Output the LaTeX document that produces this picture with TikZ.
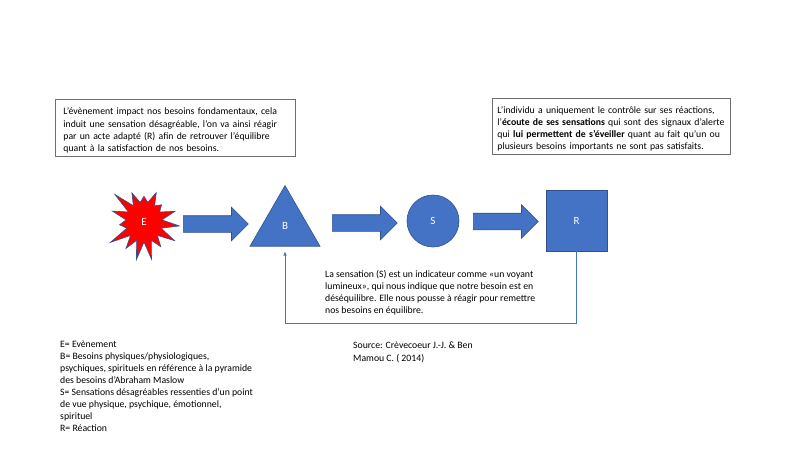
\documentclass[tikz,border=0pt]{standalone}
\usepackage{fontspec}
\setmainfont{Carlito}
\usetikzlibrary{shapes.symbols,shapes.geometric,shapes.arrows,arrows.meta}
\definecolor{accent}{HTML}{4472C4}
\definecolor{accentdark}{HTML}{2F528F}
\definecolor{boxgray}{HTML}{6E6E6E}
\begin{document}
\begin{tikzpicture}[x=1pt,y=-1pt]
	\tikzstyle{every node}=[font=\fontsize{9.75}{12.1}\selectfont]
	\tikzstyle{shapenode}=[fill=accent,draw=accentdark,line width=0.6pt,text=white,
	font=\fontsize{11}{12}\selectfont,inner sep=0pt]
	\tikzstyle{blockarrow}=[single arrow,fill=accent,draw=accentdark,line width=0.6pt,
	minimum height=65pt,inner xsep=0pt,inner ysep=8pt,single arrow head extend=8.5pt,anchor=tail]
	\tikzstyle{textbox}=[draw=boxgray,line width=0.8pt,anchor=north west,align=left,inner ysep=0pt]
	\tikzstyle{plaintext}=[anchor=north west,align=left,inner sep=0pt]
	\tikzstyle{feedback}=[draw=accent,line width=0.6pt,-{Latex[length=4pt,width=3.5pt]}]
	\fill[white] (0,0) rectangle (800,450);
	\useasboundingbox (0,0) rectangle (800,450);
	\node[textbox,inner xsep=8pt,text width=224pt,minimum height=57pt] (noteE) at (55,99)
	{\rule{0pt}{12pt}L’évènement impact nos besoins fondamentaux, cela\\
		induit une sensation désagréable, l’on va ainsi réagir\\
		par un acte adapté (R) afin de retrouver l’équilibre\\
		quant à la satisfaction de nos besoins.};
	\node[textbox,inner xsep=5pt,text width=228pt,minimum height=56pt] (noteR) at (492,98)
	{\rule{0pt}{12pt}L’individu a uniquement le contrôle sur ses réactions,\\
		l’\textbf{écoute de ses sensations} qui sont des signaux d’alerte\\
		qui \textbf{lui permettent de s’éveiller} quant au fait qu’un ou\\
		plusieurs besoins importants ne sont pas satisfaits.};
	\node[starburst,starburst points=15,starburst point height=22pt,random starburst=23,
	minimum width=80pt,minimum height=84pt,fill=red,draw=accentdark,line width=0.6pt,
	text=white,font=\fontsize{11}{12}\selectfont] (E) at (144,222) {E};
	\node[shapenode,regular polygon,regular polygon sides=3,minimum size=80.8pt] (B) at (285,226)
	{\raisebox{-6pt}{B}};
	\node[shapenode,circle,minimum size=52pt] (S) at (433,221) {S};
	\node[shapenode,rectangle,minimum size=61pt] (R) at (576.5,220.5) {R};
	\node[blockarrow] (EB) at (183,224) {};
	\node[blockarrow] (BS) at (332,223) {};
	\node[blockarrow] (SR) at (473,221.5) {};
	\draw[feedback,shorten >=5pt] (R.south) -- (R.south |- 0,323) -| (B.south);
	\node[plaintext] (sensation) at (325,270)
	{La sensation (S) est un indicateur comme «un voyant\\
		lumineux», qui nous indique que notre besoin est en\\
		déséquilibre. Elle nous pousse à réagir pour remettre\\
		nos besoins en équilibre.};
	\node[plaintext,font=\fontsize{9.75}{11.95}\selectfont] (legend) at (60,341)
	{E= Evènement\\
		B= Besoins physiques/physiologiques,\\
		psychiques, spirituels en référence à la pyramide\\
		des besoins d’Abraham Maslow\\
		S= Sensations désagréables ressenties d’un point\\
		de vue physique, psychique, émotionnel,\\
		spirituel\\
		R= Réaction};
	\node[plaintext,font=\fontsize{9.75}{12.5}\selectfont] (source) at (353,342)
	{Source: Crèvecoeur J.-J. \& Ben\\
		Mamou C. ( 2014)};
\end{tikzpicture}
\end{document}
